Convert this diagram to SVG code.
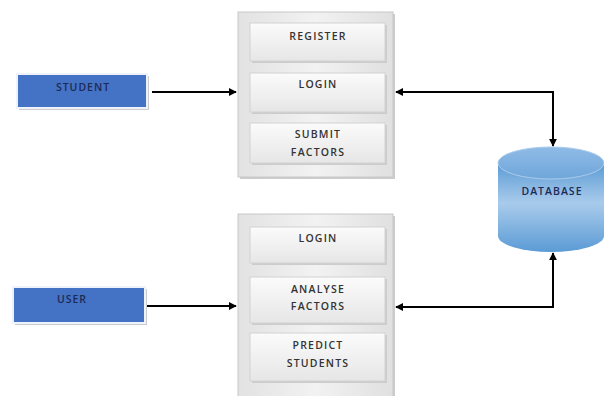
<svg xmlns="http://www.w3.org/2000/svg" width="604" height="396" viewBox="0 0 604 396">
<style>
.t{font-family:"Open Sans","Liberation Sans",sans-serif;font-size:10.5px;font-weight:600;fill:#333;text-anchor:middle;letter-spacing:1.2px}
.actor{fill:#4472C4;stroke:#eef2fa;stroke-width:2}
.at{font-family:"Open Sans","Liberation Sans",sans-serif;font-size:10.5px;font-weight:600;fill:#1c2a55;text-anchor:middle;letter-spacing:1px}
.panel{fill:url(#pg);stroke:#c8c8c8;stroke-width:1}
.item{fill:url(#ig);stroke:#d2d2d2;stroke-width:1}
.c{fill:none;stroke:#000;stroke-width:2}
.sh{fill:#cccccc}
</style>
<defs>
<linearGradient id="pg" x1="0" y1="0" x2="1" y2="0">
<stop offset="0" stop-color="#e2e2e2"/><stop offset="0.5" stop-color="#f2f2f2"/><stop offset="1" stop-color="#e0e0e0"/>
</linearGradient>
<linearGradient id="ig" x1="0" y1="0" x2="0" y2="1">
<stop offset="0" stop-color="#fbfbfb"/><stop offset="1" stop-color="#e6e6e6"/>
</linearGradient>
<linearGradient id="cb" x1="0" y1="0" x2="0" y2="1">
<stop offset="0" stop-color="#5b9bd5"/><stop offset="0.45" stop-color="#a9cbeb"/><stop offset="1" stop-color="#5b9bd5"/>
</linearGradient>
<linearGradient id="ct" x1="0" y1="0" x2="0" y2="1">
<stop offset="0" stop-color="#8fbbe6"/><stop offset="1" stop-color="#6fa6da"/>
</linearGradient>
<marker id="ah" viewBox="0 0 10 10" refX="9" refY="5" markerWidth="4" markerHeight="4" orient="auto-start-reverse">
<path d="M0,0 L10,5 L0,10 z" fill="#000"/>
</marker>
</defs>

<g id="student">
<rect x="19" y="76" width="130" height="34" class="sh"/>
<rect x="17" y="74" width="130" height="34" class="actor"/>
<text x="83" y="91" class="at">STUDENT</text>
</g>

<g id="user">
<rect x="15" y="289" width="132" height="36" class="sh"/>
<rect x="13" y="287" width="132" height="36" class="actor"/>
<text x="72" y="303" class="at">USER</text>
</g>

<g id="student-panel">
<rect x="240" y="14" width="155" height="165" class="sh"/>
<rect x="238" y="12" width="155" height="165" class="panel"/>
<g id="register">
<rect x="252" y="25" width="135" height="38" class="sh"/>
<rect x="250" y="23" width="135" height="38" class="item"/>
<text x="318" y="40" class="t">REGISTER</text>
</g>
<g id="login1">
<rect x="252" y="75" width="135" height="39" class="sh"/>
<rect x="250" y="73" width="135" height="39" class="item"/>
<text x="318" y="88" class="t">LOGIN</text>
</g>
<g id="submit">
<rect x="252" y="125" width="135" height="40" class="sh"/>
<rect x="250" y="123" width="135" height="40" class="item"/>
<text x="318" y="138" class="t">SUBMIT</text>
<text x="318" y="156" class="t">FACTORS</text>
</g>
</g>

<g id="user-panel">
<rect x="240" y="216" width="155" height="190" class="sh"/>
<rect x="238" y="214" width="155" height="190" class="panel"/>
<g id="login2">
<rect x="252" y="229" width="135" height="36" class="sh"/>
<rect x="250" y="227" width="135" height="36" class="item"/>
<text x="318" y="242" class="t">LOGIN</text>
</g>
<g id="analyse">
<rect x="252" y="279" width="135" height="46" class="sh"/>
<rect x="250" y="277" width="135" height="46" class="item"/>
<text x="318" y="293" class="t">ANALYSE</text>
<text x="318" y="310" class="t">FACTORS</text>
</g>
<g id="predict">
<rect x="252" y="335" width="135" height="48" class="sh"/>
<rect x="250" y="333" width="135" height="48" class="item"/>
<text x="318" y="349" class="t">PREDICT</text>
<text x="318" y="367" class="t">STUDENTS</text>
</g>
</g>

<g id="database">
<path d="M498,163 L498,236 A53,16 0 0 0 604,236 L604,163 Z" fill="url(#cb)"/>
<ellipse cx="551" cy="163" rx="53" ry="16" fill="url(#ct)" stroke="#a9cbeb" stroke-width="1"/>
<text x="552" y="195" class="at">DATABASE</text>
</g>

<g id="connectors">
<path d="M152,92 L236,92" class="c" marker-end="url(#ah)"/>
<path d="M147,306 L236,306" class="c" marker-end="url(#ah)"/>
<path d="M396,92 L553,92 L553,146" class="c" marker-start="url(#ah)" marker-end="url(#ah)"/>
<path d="M396,307 L553,307 L553,253" class="c" marker-start="url(#ah)" marker-end="url(#ah)"/>
</g>
</svg>
